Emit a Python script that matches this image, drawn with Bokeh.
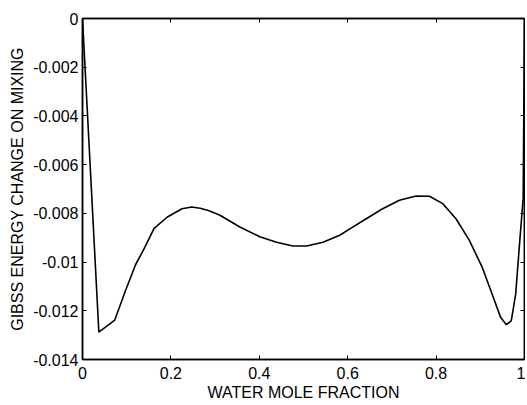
from bokeh.plotting import figure
from bokeh.models import FixedTicker, LinearAxis, CustomJSTickFormatter, Range1d
from bokeh.embed import file_html
from bokeh.resources import INLINE

# data
water_x = [0, 0.037, 0.073, 0.097, 0.12, 0.138, 0.162, 0.192, 0.225, 0.247, 0.266,
           0.285, 0.311, 0.356, 0.401, 0.439, 0.476, 0.507, 0.544, 0.582, 0.604,
           0.642, 0.679, 0.717, 0.755, 0.785, 0.815, 0.845, 0.875, 0.905, 0.927,
           0.946, 0.959, 0.970, 0.980, 0.989, 0.997, 1.0]
gibbs_y = [0, -0.01288, -0.01238, -0.01119, -0.01011, -0.0095, -0.00862, -0.00815,
           -0.00781, -0.00774, -0.00779, -0.00788, -0.00808, -0.00856, -0.00896,
           -0.00919, -0.00934, -0.00934, -0.00919, -0.0089, -0.00865, -0.00822,
           -0.00781, -0.00746, -0.00729, -0.0073, -0.0076, -0.00822, -0.0091,
           -0.01024, -0.01133, -0.01227, -0.01257, -0.01241, -0.01133, -0.0092,
           -0.00738, 0]

x_ticks = [0, 0.2, 0.4, 0.6, 0.8, 1.0]
x_tick_labels = ["0", "0.2", "0.4", "0.6", "0.8", "1"]
y_ticks = [0, -0.002, -0.004, -0.006, -0.008, -0.01, -0.012, -0.014]
y_tick_labels = ["0", "-0.002", "-0.004", "-0.006", "-0.008", "-0.01", "-0.012", "-0.014"]

FONT = "Liberation Sans"

p = figure(width=525, height=403, output_backend="svg", toolbar_location=None,
           x_range=Range1d(0, 1), y_range=Range1d(-0.014, 0),
           min_border_left=82, min_border_right=1, min_border_top=18, min_border_bottom=41)
p.background_fill_color = "white"
p.border_fill_color = "white"
p.outline_line_color = "black"
p.outline_line_width = 1.5
p.grid.visible = False

p.line(water_x, gibbs_y, line_color="black", line_width=1.6)

def style(ax, ticks, labels):
    ax.ticker = FixedTicker(ticks=ticks)
    ax.major_label_overrides = {t: l for t, l in zip(ticks, labels)}
    ax.major_tick_in = 4
    ax.major_tick_out = 0
    ax.minor_tick_line_color = None
    ax.major_tick_line_color = "black"
    ax.major_tick_line_width = 1
    ax.axis_line_color = "black"
    ax.axis_line_width = 1.5
    ax.major_label_text_font = FONT
    ax.major_label_text_font_size = "16px"
    ax.major_label_text_color = "black"
    ax.major_label_text_line_height = 0.9
    ax.axis_label_text_font = FONT
    ax.axis_label_text_font_size = "16px"
    ax.axis_label_text_font_style = "normal"
    ax.axis_label_text_color = "black"
    ax.axis_label_text_line_height = 0.9

xa = p.xaxis[0]
style(xa, x_ticks, x_tick_labels)
xa.axis_label = "WATER MOLE FRACTION"
xa.major_label_standoff = 7
xa.axis_label_standoff = 2

ya = p.yaxis[0]
style(ya, y_ticks, y_tick_labels)
ya.axis_label = "GIBSS ENERGY CHANGE ON MIXING"
ya.major_label_standoff = 4
ya.axis_label_standoff = 4

blank = "return ''"
top = LinearAxis(formatter=CustomJSTickFormatter(code=blank))
style(top, x_ticks, x_tick_labels)
top.major_label_overrides = {}
top.major_label_text_font_size = "1px"
top.major_label_standoff = 0
p.add_layout(top, "above")

right = LinearAxis(formatter=CustomJSTickFormatter(code=blank))
style(right, y_ticks, y_tick_labels)
right.major_label_overrides = {}
right.major_label_text_font_size = "1px"
right.major_label_standoff = 0
p.add_layout(right, "right")

open("out.html", "w").write(file_html(p, INLINE))
